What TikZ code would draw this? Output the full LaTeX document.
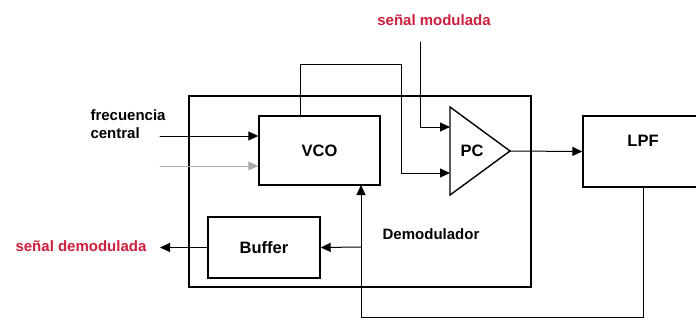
\documentclass[tikz,border=0pt]{standalone}
\usepackage{fontspec}
\setmainfont{Liberation Sans}
\usetikzlibrary{arrows.meta}
\usepackage{xcolor}
\definecolor{senalrojo}{RGB}{205,30,60}

\begin{document}
\begin{tikzpicture}[x=1pt,y=-1pt,>={Triangle[length=10pt,width=9pt]},font=\bfseries\fontsize{15}{18}\selectfont,line cap=round]
\tikzset{bloque/.style={draw,line width=1.4pt,inner sep=0pt},
  etiq/.style={font=\bfseries\fontsize{16.5}{18}\selectfont},
  senal/.style={text=senalrojo},
  linea/.style={line width=1pt}}
\useasboundingbox (0,0) rectangle (696,321);
\clip (0,0) rectangle (696,321);
\node[bloque,minimum width=342pt,minimum height=191pt] (demod) at (360,191.5) {};
\node (demodlbl) at (431,234) {Demodulador};
\node[bloque,etiq,minimum width=121pt,minimum height=69pt] (vco) at (319.5,150.5) {VCO};
\node[bloque,etiq,minimum width=112pt,minimum height=61pt] (buffer) at (264,247.5) {Buffer};
\node[bloque,minimum width=120pt,minimum height=71pt] (lpf) at (643,151.5) {};
\node[etiq] (lpflbl) at (643,141) {LPF};
% comparador de fase
\coordinate (pctop) at (450,107);
\coordinate (pcbot) at (450,195);
\coordinate (pcout) at (510,151);
\coordinate (pcinA) at (450,127);
\coordinate (pcinB) at (450,173);
\draw[line width=1.4pt,line join=miter] (pctop) -- (pcout) -- (pcbot) -- cycle;
\node[etiq] (pc) at (472,151) {PC};
% entradas y salidas
\node[senal] (modul) at (434,20) {señal modulada};
\node[senal] (demodul) at (81,246) {señal demodulada};
\node[align=left,anchor=west] (frec) at (87,124) {frecuencia\\central};
\coordinate (modin) at (420,42);
\coordinate (frecin) at (160,136);
\coordinate (grisin) at (160,166);
\coordinate (vcotap) at (300,116);
\coordinate (vcofb) at (361,185);
\coordinate (nodo) at (361,247);
\coordinate (demodout) at (160,247.5);
\draw[linea,->] (modin) |- (pcinA);
\draw[linea,->] (vcotap) |- (401,65) |- (pcinB);
\draw[linea,->] (pcout) -- (lpf.west);
\draw[linea,->] (lpf.south) |- (361,317) -- (vcofb);
\draw[linea,->] (nodo) -- (buffer.east);
\draw[linea,->] (buffer.west) -- (demodout);
\draw[linea,->] (frecin) -- (vco.west |- frecin);
\draw[linea,->,gray!65] (grisin) -- (vco.west |- grisin);
\end{tikzpicture}
\end{document}
